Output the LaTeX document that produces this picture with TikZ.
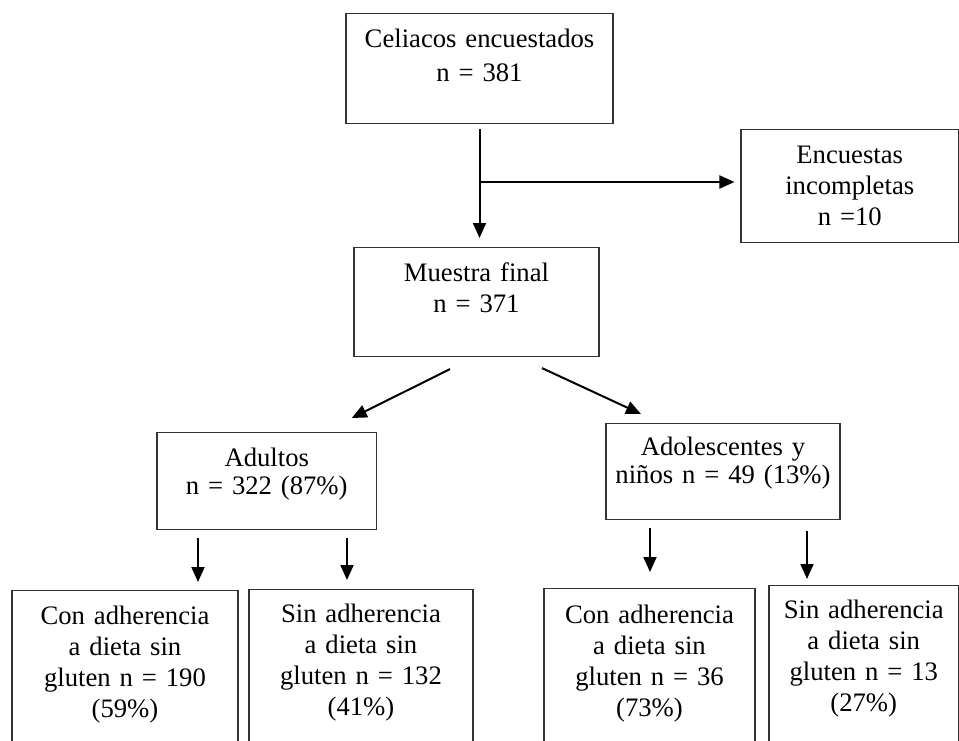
\documentclass[tikz,border=0pt]{standalone}
\usepackage{fontspec}
\setmainfont{Liberation Serif}
\usetikzlibrary{arrows.meta,calc}

\begin{document}
\begin{tikzpicture}[
x = 1pt, y = -1pt,
every node/.style = {font=\fontsize{26.67}{31}\selectfont},
box/.style = {draw=black!80, line width=1.1pt, anchor=north, align=center, inner sep=0pt},
arr/.style = {-{Triangle[length=15pt,width=13pt]}, line width=2pt}
]
\useasboundingbox (0,0) rectangle (959,741);
\clip (0,0) rectangle (959,741);

\node[box, text width=267pt, text height=34pt, text depth=76pt] (celiac) at (479.5,13)
	{Celiacos encuestados\\[3pt] n = 381};
\node[box, text width=217.5pt, text height=34pt, text depth=79pt] (encuestas) at (849.75,129)
	{Encuestas\\ incompletas\\ n =10};
\node[box, text width=245pt, text height=34pt, text depth=75pt] (muestra) at (476.5,247)
	{Muestra final\\ n = 371};
\node[box, text width=219.5pt, text height=34pt, text depth=63pt] (adultos) at (266.75,432)
	{Adultos\\[-3pt] n = 322 (87\%)};
\node[box, text width=234pt, text height=32pt, text depth=64pt] (adolesc) at (723,423)
	{Adolescentes y\\[-3pt] niños n = 49 (13\%)};
\node[box, text width=226pt, text height=34pt, text depth=136pt] (conadu) at (125,590)
	{Con adherencia\\ a dieta sin\\ gluten n = 190\\ (59\%)};
\node[box, text width=224pt, text height=33pt, text depth=138pt] (sinadu) at (361,589)
	{Sin adherencia\\ a dieta sin\\ gluten n = 132\\ (41\%)};
\node[box, text width=211pt, text height=35pt, text depth=137pt] (conado) at (649.5,588)
	{Con adherencia\\ a dieta sin\\ gluten n = 36\\ (73\%)};
\node[box, text width=189.5pt, text height=33pt, text depth=142pt] (sinado) at (863.75,585)
	{Sin adherencia\\ a dieta sin\\ gluten n = 13\\ (27\%)};

\coordinate (split) at (479.5,182);

\draw[arr, shorten <=5pt, shorten >=9pt] (celiac.south) -- (celiac.south |- muestra.north);
\draw[arr, shorten >=6pt] (split) -- (split -| encuestas.west);
\draw[arr] ($(muestra.south)+(-26.5,12)$) -- ($(adultos.north)+(85,-14)$);
\draw[arr] ($(muestra.south)+(65.5,11)$) -- ($(adolesc.north)+(-82,-9)$);
\draw[arr] ($(adultos.south)+(-68.75,8)$) -- ($(conadu.north)+(73,-8)$);
\draw[arr] ($(adultos.south)+(80.25,8)$) -- ($(sinadu.north)+(-14,-9)$);
\draw[arr] ($(adolesc.south)+(-73,8)$) -- ($(conado.north)+(0.5,-16)$);
\draw[arr] ($(adolesc.south)+(84,11)$) -- ($(sinado.north)+(-56.75,-6)$);
\end{tikzpicture}
\end{document}
